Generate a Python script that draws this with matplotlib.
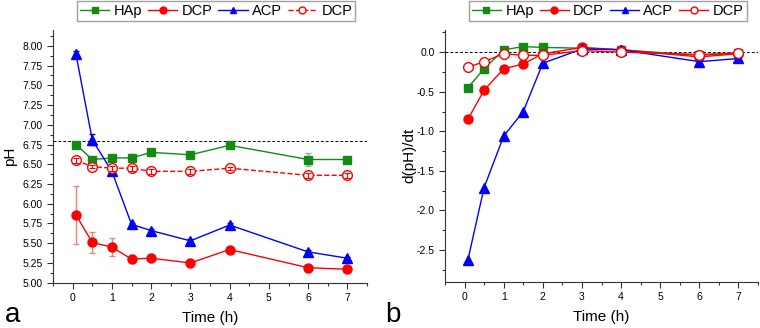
import matplotlib.pyplot as plt
import matplotlib as mpl
from matplotlib.ticker import MultipleLocator
from matplotlib.lines import Line2D

mpl.rc('font', family=['Liberation Sans', 'DejaVu Sans'])

# data
time_h = [0.083, 0.5, 1, 1.5, 2, 3, 4, 6, 7]

ph_hap = [6.75, 6.56, 6.58, 6.58, 6.65, 6.62, 6.74, 6.56, 6.56]
ph_hap_err = [0.02, 0.02, 0.02, 0.05, 0.02, 0.02, 0.02, 0.08, 0.02]
ph_dcp = [5.86, 5.51, 5.45, 5.30, 5.31, 5.25, 5.42, 5.19, 5.17]
ph_dcp_err = [0.37, 0.13, 0.11, 0.02, 0.02, 0.02, 0.02, 0.02, 0.02]
ph_acp = [7.90, 6.81, 6.41, 5.74, 5.66, 5.53, 5.73, 5.39, 5.31]
ph_acp_err = [0.03, 0.07, 0.02, 0.02, 0.02, 0.02, 0.02, 0.02, 0.02]
ph_dcp2 = [6.55, 6.47, 6.45, 6.45, 6.41, 6.41, 6.45, 6.36, 6.36]
ph_dcp2_err = [0.03, 0.02, 0.03, 0.03, 0.03, 0.03, 0.02, 0.03, 0.03]
ph_ref = 6.8

d_hap = [-0.45, -0.21, 0.03, 0.07, 0.06, 0.05, 0.03, -0.04, -0.01]
d_dcp = [-0.85, -0.48, -0.21, -0.15, -0.02, 0.06, 0.03, -0.06, -0.02]
d_acp = [-2.63, -1.71, -1.06, -0.75, -0.14, 0.04, 0.03, -0.12, -0.08]
d_dcp2 = [-0.19, -0.12, -0.02, -0.04, -0.04, 0.02, 0.00, -0.03, -0.01]

labels = ['HAp', 'DCP', 'ACP', 'DCP']
green, red, blue = '#138A13', '#FF0000', '#0000FF'

fig = plt.figure(figsize=(7.6, 3.28), dpi=100)
ax1 = fig.add_axes([53/760, 1-282.7/328, 314/760, 252.7/328])
ax2 = fig.add_axes([445/760, 1-281.7/328, 313/760, 251.7/328])

# panel a
ax1.axhline(ph_ref, color='k', ls='--', lw=0.7, dashes=(3, 2))
ax1.errorbar(time_h, ph_hap, yerr=ph_hap_err, color=green, lw=1, marker='s', ms=5.5,
             ecolor='#7cbf7c', capsize=2.5, elinewidth=1)
ax1.errorbar(time_h, ph_dcp, yerr=ph_dcp_err, color=red, lw=1, marker='o', ms=6.5,
             ecolor='#f08080', capsize=2.5, elinewidth=1)
ax1.errorbar(time_h, ph_acp, yerr=ph_acp_err, color=blue, lw=1, marker='^', ms=6.5,
             ecolor=blue, capsize=2.5, elinewidth=1)
ax1.plot(time_h, ph_dcp2, color=red, lw=1, ls='--', marker='o', ms=7,
         mfc='white', mec=red, zorder=3)
# small error bars drawn over the open markers
ax1.errorbar(time_h, ph_dcp2, yerr=ph_dcp2_err, fmt='none', ecolor=red,
             capsize=2.5, elinewidth=0.8, capthick=0.8, zorder=4)
ax1.set_xlim(-0.5, 7.5)
ax1.set_ylim(5.0, 8.2)
ax1.yaxis.set_major_locator(MultipleLocator(0.25))
ax1.yaxis.set_minor_locator(MultipleLocator(0.125))
ax1.yaxis.set_major_formatter(mpl.ticker.FormatStrFormatter('%.2f'))
ax1.set_ylabel('pH', fontsize=11, labelpad=4)

# panel b
ax2.axhline(0, color='k', ls='--', lw=0.7, dashes=(3, 2))
ax2.plot(time_h, d_hap, color=green, lw=1, marker='s', ms=5.5)
ax2.plot(time_h, d_dcp, color=red, lw=1, marker='o', ms=6.5)
ax2.plot(time_h, d_acp, color=blue, lw=1, marker='^', ms=6.5)
ax2.plot(time_h, d_dcp2, color=red, lw=1, marker='o', ms=7, mfc='white', mec=red)
ax2.set_xlim(-0.5, 7.5)
ax2.set_ylim(-2.9, 0.28)
ax2.yaxis.set_major_locator(MultipleLocator(0.5))
ax2.yaxis.set_minor_locator(MultipleLocator(0.25))
ax2.yaxis.set_major_formatter(mpl.ticker.FormatStrFormatter('%.1f'))
ax2.set_ylabel('d(pH)/dt', fontsize=11, labelpad=0)


def legend_handles(open_ls):
    return [
        Line2D([], [], color=green, lw=1, marker='s', ms=4.5),
        Line2D([], [], color=red, lw=1, marker='o', ms=5),
        Line2D([], [], color=blue, lw=1, marker='^', ms=5),
        Line2D([], [], color=red, lw=1, ls=open_ls, marker='o', ms=5, mfc='white', mec=red),
    ]


for ax, open_ls in ((ax1, '--'), (ax2, '-')):
    ax.spines['top'].set_visible(False)
    ax.spines['right'].set_visible(False)
    for s in ('left', 'bottom'):
        ax.spines[s].set_color('#333333')
    ax.xaxis.set_major_locator(MultipleLocator(1))
    ax.xaxis.set_minor_locator(MultipleLocator(0.5))
    ax.tick_params(which='major', direction='out', length=4, width=0.8, labelsize=7.5,
                   color='#333333')
    ax.tick_params(which='minor', direction='out', length=2, width=0.8, color='#333333')
    ax.set_xlabel('Time (h)', fontsize=11, labelpad=6)
    ax.legend(legend_handles(open_ls), labels, loc='upper center',
              bbox_to_anchor=(0.52, 1.115), ncol=4, fontsize=10.5,
              frameon=True, fancybox=False, edgecolor='#888888', handlelength=2.0,
              handletextpad=0.3, columnspacing=0.4, borderpad=0.2, borderaxespad=0)

fig.text(5/760, 1-322/328, 'a', fontsize=20)
fig.text(385/760, 1-322/328, 'b', fontsize=20)

fig.savefig('out.png', dpi=100)
